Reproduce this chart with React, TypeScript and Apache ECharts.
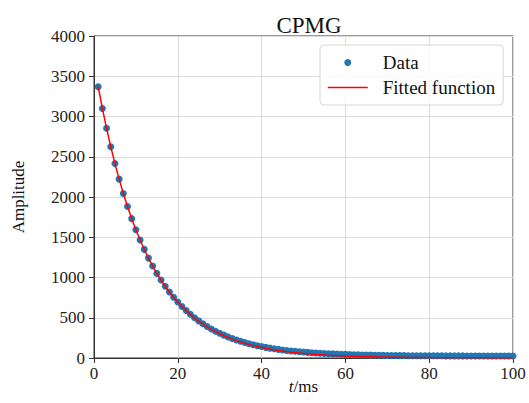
import React, { useEffect, useRef } from "react";
import * as echarts from "echarts";

const times: number[] = [
  1, 2, 3, 4, 5, 6, 7, 8, 9, 10, 11, 12, 13, 14, 15, 16, 17, 18, 19, 20,
  21, 22, 23, 24, 25, 26, 27, 28, 29, 30, 31, 32, 33, 34, 35, 36, 37, 38, 39, 40,
  41, 42, 43, 44, 45, 46, 47, 48, 49, 50, 51, 52, 53, 54, 55, 56, 57, 58, 59, 60,
  61, 62, 63, 64, 65, 66, 67, 68, 69, 70, 71, 72, 73, 74, 75, 76, 77, 78, 79, 80,
  81, 82, 83, 84, 85, 86, 87, 88, 89, 90, 91, 92, 93, 94, 95, 96, 97, 98, 99, 100,
];

const dataAmplitude: number[] = [
  3370, 3100, 2853, 2625, 2415, 2222, 2044, 1881, 1731, 1593,
  1466, 1349, 1241, 1142, 1051, 968, 891, 820, 755, 695,
  640, 589, 543, 500, 461, 425, 392, 361, 333, 307,
  284, 262, 242, 224, 207, 192, 178, 165, 153, 142,
  132, 123, 115, 107, 100, 94, 88, 83, 78, 74,
  70, 66, 62, 59, 56, 53, 51, 49, 47, 45,
  43, 41, 40, 38, 37, 36, 35, 34, 33, 32,
  31, 31, 30, 30, 29, 29, 28, 28, 28, 27,
  27, 27, 27, 26, 26, 26, 26, 26, 25, 25,
  25, 25, 25, 25, 25, 25, 25, 25, 25, 25,
];

const fittedAmplitude: number[] = [
  3370, 3101, 2853, 2625, 2415, 2222, 2044, 1881, 1730, 1592,
  1465, 1348, 1240, 1141, 1050, 966, 888, 817, 752, 692,
  637, 586, 539, 496, 456, 420, 386, 355, 327, 301,
  277, 255, 234, 215, 198, 182, 168, 154, 142, 131,
  120, 111, 102, 94, 86, 79, 73, 67, 62, 57,
  52, 48, 44, 41, 37, 34, 32, 29, 27, 25,
  23, 21, 19, 18, 16, 15, 14, 13, 12, 11,
  10, 9, 8, 8, 7, 7, 6, 6, 5, 5,
  4, 4, 4, 3, 3, 3, 3, 2, 2, 2,
  2, 2, 2, 1, 1, 1, 1, 1, 1, 1,
];

const xTicks = { min: 0, max: 100, interval: 20 };
const yTicks = { min: 0, max: 4000, interval: 500 };

const FONT = "Liberation Serif";

export default function App() {
  const ref = useRef<HTMLDivElement>(null);

  useEffect(() => {
    if (!ref.current) return;
    document.body.style.margin = "0";
    const chart = echarts.init(ref.current, undefined, { renderer: "svg" });
    chart.setOption({
      animation: false,
      backgroundColor: "#ffffff",
      textStyle: { fontFamily: FONT },
      title: {
        text: "CPMG",
        left: 304,
        top: 9,
        textAlign: "center",
        textStyle: { fontFamily: FONT, fontSize: 23, fontWeight: "normal", color: "#111" },
      },
      grid: {
        left: 94,
        right: 16,
        top: 36,
        bottom: 45,
        show: true,
        borderColor: "#333",
        borderWidth: 1,
        backgroundColor: "transparent",
        containLabel: false,
        outerBoundsMode: "none",
      },
      legend: {
        left: 320,
        top: 45,
        orient: "vertical",
        padding: [8, 8, 8, 7],
        itemWidth: 40,
        itemHeight: 7,
        itemGap: 6,
        borderColor: "#d6d6d6",
        borderWidth: 1,
        borderRadius: 4,
        backgroundColor: "rgba(255,255,255,0.85)",
        textStyle: { fontFamily: FONT, fontSize: 19, color: "#111", padding: [0, 0, 0, 10] },
        data: [
          { name: "Data", icon: "circle" },
          {
            name: "Fitted function",
            itemStyle: { opacity: 0 },
            lineStyle: { width: 1.5, color: "#ff0000" },
          },
        ],
      },
      xAxis: {
        type: "value",
        min: xTicks.min,
        max: xTicks.max,
        interval: xTicks.interval,
        name: "{i|t}/ms",
        nameLocation: "middle",
        nameGap: 20,
        nameMoveOverlap: false,
        nameTextStyle: {
          fontFamily: FONT,
          fontSize: 17,
          color: "#111",
          rich: { i: { fontFamily: FONT, fontSize: 17, fontStyle: "italic", color: "#111" } },
        },
        axisLine: { show: true, onZero: false, lineStyle: { color: "#333", width: 1 } },
        axisTick: { show: true, inside: false, length: 5, lineStyle: { color: "#333" } },
        axisLabel: {
          fontFamily: FONT,
          fontSize: 17,
          color: "#222",
          margin: 7,
          formatter: (v: number) => String(v),
        },
        splitLine: { show: true, lineStyle: { color: "#dcdcdc", width: 1 } },
      },
      yAxis: {
        type: "value",
        min: yTicks.min,
        max: yTicks.max,
        interval: yTicks.interval,
        name: "Amplitude",
        nameLocation: "middle",
        nameGap: 67,
        nameMoveOverlap: false,
        nameTextStyle: { fontFamily: FONT, fontSize: 17, color: "#111" },
        axisLine: { show: true, onZero: false, lineStyle: { color: "#333", width: 1 } },
        axisTick: { show: true, inside: false, length: 5, lineStyle: { color: "#333" } },
        axisLabel: {
          fontFamily: FONT,
          fontSize: 17,
          color: "#222",
          margin: 9,
          formatter: (v: number) => String(v),
        },
        splitLine: { show: true, lineStyle: { color: "#dcdcdc", width: 1 } },
      },
      series: [
        {
          name: "Data",
          type: "scatter",
          symbol: "circle",
          symbolSize: 7,
          itemStyle: { color: "#1f77b4", opacity: 1 },
          data: times.map((t, i) => [t, dataAmplitude[i]]),
          z: 2,
        },
        {
          name: "Fitted function",
          type: "line",
          symbol: "none",
          showSymbol: false,
          lineStyle: { color: "#ff0000", width: 1.5 },
          itemStyle: { color: "#ff0000" },
          data: times.map((t, i) => [t, fittedAmplitude[i]]),
          z: 3,
        },
      ],
    });
    return () => chart.dispose();
  }, []);

  return (
    <div
      ref={ref}
      style={{ width: 529, height: 403, position: "fixed", left: 0, top: 0 }}
    />
  );
}
